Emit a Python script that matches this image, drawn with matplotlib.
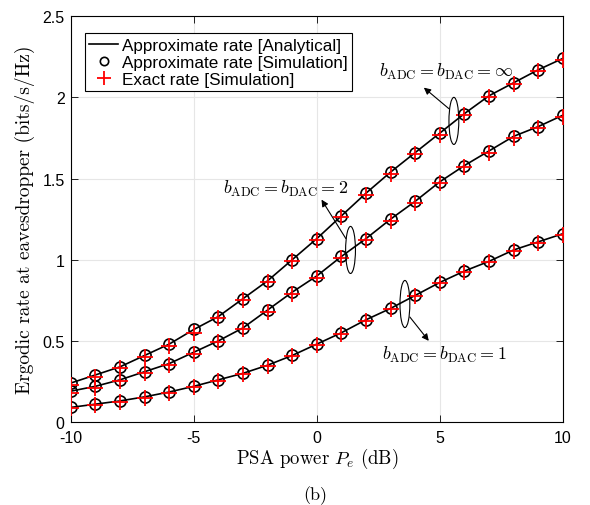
import numpy as np
import matplotlib
matplotlib.use('Agg')
import matplotlib.pyplot as plt
from matplotlib.patches import Ellipse

plt.rcParams['font.family'] = 'Liberation Sans'
plt.rcParams['mathtext.fontset'] = 'cm'
plt.rcParams['axes.unicode_minus'] = False

# PSA power (dB)
pe_db = list(range(-10, 11))

# approximate rate (analytical curve and its simulated points)
approx_inf = [0.24, 0.29, 0.34, 0.41, 0.48, 0.57, 0.65, 0.76, 0.87, 1.00, 1.13,
              1.27, 1.41, 1.54, 1.66, 1.78, 1.90, 2.01, 2.09, 2.17, 2.24]
approx_2 = [0.19, 0.22, 0.26, 0.31, 0.36, 0.43, 0.50, 0.58, 0.69, 0.80, 0.90,
            1.02, 1.13, 1.25, 1.36, 1.48, 1.58, 1.67, 1.76, 1.82, 1.89]
approx_1 = [0.09, 0.11, 0.13, 0.155, 0.185, 0.22, 0.26, 0.30, 0.35, 0.41, 0.48,
            0.55, 0.63, 0.70, 0.78, 0.86, 0.93, 0.99, 1.06, 1.11, 1.16]

# exact rate (simulation)
exact_inf = [0.23, 0.28, 0.33, 0.40, 0.47, 0.55, 0.64, 0.75, 0.86, 0.99, 1.12,
             1.26, 1.40, 1.53, 1.65, 1.77, 1.89, 2.00, 2.08, 2.16, 2.23]
exact_2 = [0.18, 0.21, 0.25, 0.30, 0.35, 0.42, 0.49, 0.57, 0.68, 0.79, 0.89,
           1.01, 1.12, 1.24, 1.35, 1.47, 1.57, 1.66, 1.75, 1.81, 1.88]
exact_1 = [0.085, 0.105, 0.125, 0.15, 0.18, 0.215, 0.255, 0.295, 0.345, 0.405, 0.475,
           0.545, 0.625, 0.695, 0.775, 0.855, 0.925, 0.985, 1.055, 1.105, 1.155]

serif = 'cmr10'

fig = plt.figure(figsize=(5.9, 5.06), dpi=100)
ax = fig.add_axes([0.120, 0.164, 0.834, 0.802])

for approx, exact in [(approx_inf, exact_inf), (approx_2, exact_2), (approx_1, exact_1)]:
    ax.plot(pe_db, approx, '-', color='black', lw=1.2, zorder=3)
    ax.plot(pe_db, approx, 'o', mfc='none', mec='black', ms=8, mew=1.2, zorder=4)
    ax.plot(pe_db, exact, '+', color='red', ms=11, mew=1.3, zorder=5)

# legend proxies
h1, = ax.plot([], [], '-', color='black', lw=1.2)
h2, = ax.plot([], [], 'o', mfc='none', mec='black', ms=6, mew=1.2)
h3, = ax.plot([], [], '+', color='red', ms=10, mew=1.3)
leg = ax.legend([h1, h2, h3],
                ['Approximate rate [Analytical]', 'Approximate rate [Simulation]',
                 'Exact rate [Simulation]'],
                loc='upper left', bbox_to_anchor=(0.029, 0.958), fontsize=12.3,
                frameon=True, fancybox=False, edgecolor='black', framealpha=1,
                borderpad=0.25, labelspacing=0.12, handlelength=1.7, handletextpad=0.2,
                borderaxespad=0)
leg.get_frame().set_linewidth(0.8)

# ellipses grouping curves, with arrows to their labels
for (cx, cy), (tail, head) in [((5.57, 1.855), ((5.37, 1.93), (4.35, 2.06))),
                               ((1.37, 1.06), ((1.18, 1.13), (0.19, 1.37))),
                               ((3.58, 0.727), ((3.78, 0.647), (4.55, 0.50)))]:
    ax.add_patch(Ellipse((cx, cy), 0.4, 0.29, fill=False, ec='black', lw=0.8, zorder=6))
    ax.annotate('', xy=head, xytext=tail,
                arrowprops=dict(arrowstyle='-|>', color='black', lw=0.8,
                                mutation_scale=10, shrinkA=0, shrinkB=0))

ax.text(5.25, 2.16, r'$b_{\mathrm{ADC}}=b_{\mathrm{DAC}}=\infty$', fontsize=13,
        ha='center', va='center')
ax.text(-1.28, 1.44, r'$b_{\mathrm{ADC}}=b_{\mathrm{DAC}}=2$', fontsize=13,
        ha='center', va='center')
ax.text(5.2, 0.42, r'$b_{\mathrm{ADC}}=b_{\mathrm{DAC}}=1$', fontsize=13,
        ha='center', va='center')

ax.set_xlim(-10, 10)
ax.set_ylim(0, 2.5)
ax.set_xticks([-10, -5, 0, 5, 10])
ax.set_yticks([0, 0.5, 1, 1.5, 2, 2.5])
ax.set_yticklabels(['0', '0.5', '1', '1.5', '2', '2.5'])
ax.tick_params(direction='in', top=True, right=True, labelsize=11.5, length=5, width=0.6)
ax.tick_params(axis='x', pad=6)
ax.tick_params(axis='y', pad=4.5)
ax.grid(True, color='#e6e6e6', lw=0.8)
ax.set_axisbelow(True)
for sp in ax.spines.values():
    sp.set_linewidth(0.8)

ax.set_xlabel(r'PSA power $P_e$ (dB)', fontsize=13.5, family=serif, labelpad=0.5)
ax.set_ylabel('Ergodic rate at eavesdropper (bits/s/Hz)', fontsize=14, family=serif,
              labelpad=5)
fig.text(0.534, 0.021, '(b)', fontsize=13, family=serif, ha='center', va='center')

fig.savefig('out.png', dpi=100)
